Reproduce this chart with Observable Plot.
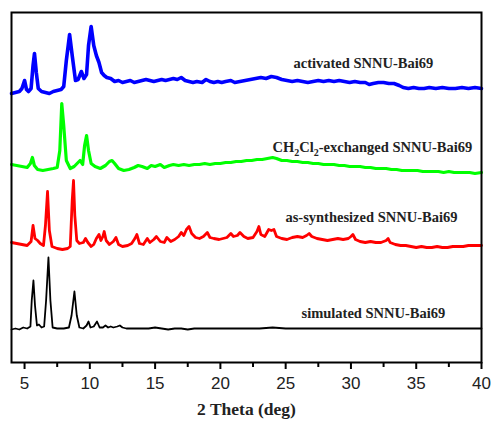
<!DOCTYPE html>
<html>
<head>
<meta charset="utf-8">
<script src="https://cdn.jsdelivr.net/npm/d3@7"></script>
<script src="https://cdn.jsdelivr.net/npm/@observablehq/plot@0.6"></script>
<style>
  html, body { margin: 0; padding: 0; background: #fff; }
</style>
</head>
<body>
<div id="chart"></div>
<script>
// 2θ (deg), intensity (a.u., stacked offsets as in the figure)
const activated = [[4.0,269],[4.3,270],[4.6,271],[4.8,274],[5.0,282],[5.15,273],[5.3,271],[5.5,274],[5.65,297],[5.76,309],[5.9,290],[6.05,274],[6.3,271],[6.6,270],[6.9,269],[7.2,271],[7.5,272],[7.8,273],[8.0,276],[8.2,302],[8.45,328],[8.65,307],[8.9,282],[9.1,283],[9.35,291],[9.55,284],[9.75,288],[9.9,317],[10.1,336],[10.3,317],[10.5,307],[10.7,300],[10.9,290],[11.1,287],[11.3,285],[11.6,284],[11.9,281],[12.2,282],[12.5,280],[12.8,281],[13.1,282],[13.4,280],[13.7,281],[14.0,282],[14.3,283],[14.6,282],[14.9,281],[15.2,282],[15.5,283],[15.8,282],[16.1,283],[16.4,284],[16.7,283],[17.0,285],[17.3,282],[17.6,281],[17.9,280],[18.2,281],[18.6,280],[18.9,283],[19.2,281],[19.5,280],[19.8,281],[20.1,280],[20.4,281],[20.8,282],[21.1,280],[21.5,281],[21.9,282],[22.3,283],[22.7,284],[23.1,285],[23.5,284],[23.9,286],[24.3,285],[24.7,283],[25.1,282],[25.5,281],[25.9,282],[26.3,281],[26.7,280],[27.1,281],[27.5,282],[27.9,281],[28.3,282],[28.7,281],[29.1,282],[29.5,281],[29.9,280],[30.3,281],[30.7,280],[31.1,280],[31.4,278],[31.7,279],[32.1,280],[32.5,280],[32.9,279],[33.3,279],[33.7,277],[34.0,275],[34.4,274],[34.8,275],[35.2,274],[35.6,274],[36.0,275],[36.5,274],[37.0,275],[37.5,274],[38.0,274],[38.5,275],[39.0,274],[39.5,275],[40.0,274]];

const exchanged = [[4.0,198],[4.4,197],[4.8,196],[5.2,195],[5.45,199],[5.6,205],[5.75,197],[6.0,193],[6.4,192],[6.8,193],[7.2,194],[7.5,195],[7.7,212],[7.85,259],[8.0,237],[8.2,202],[8.5,194],[8.8,196],[9.1,200],[9.25,202],[9.45,198],[9.6,217],[9.75,227],[9.9,212],[10.1,199],[10.4,196],[10.8,194],[11.2,197],[11.5,201],[11.7,202],[11.9,199],[12.2,194],[12.6,192],[13.0,193],[13.4,195],[13.7,197],[14.0,196],[14.4,194],[14.7,197],[15.0,196],[15.4,198],[15.7,195],[16.1,197],[16.4,198],[16.8,197],[17.2,198],[17.6,197],[18.0,198],[18.4,198],[18.8,199],[19.2,198],[19.6,199],[20.0,199],[20.4,200],[20.8,200],[21.2,201],[21.6,201],[22.0,202],[22.4,202],[22.8,203],[23.2,203],[23.6,204],[24.0,205],[24.3,204],[24.7,202],[25.1,202],[25.5,201],[25.9,201],[26.3,200],[26.7,200],[27.1,199],[27.5,199],[27.9,198],[28.3,198],[28.7,198],[29.1,197],[29.5,197],[29.9,196],[30.3,196],[30.7,196],[31.1,195],[31.5,195],[31.9,194],[32.3,194],[32.7,194],[33.1,193],[33.5,193],[33.9,192],[34.3,192],[34.7,192],[35.1,192],[35.5,191],[35.9,191],[36.3,191],[36.7,191],[37.1,190],[37.5,191],[37.9,190],[38.3,190],[38.7,190],[39.1,190],[39.5,189],[40.0,190]];

const synthesized = [[4.0,120],[4.4,119],[4.8,118],[5.2,117],[5.5,121],[5.65,137],[5.8,124],[6.0,122],[6.2,119],[6.45,117],[6.6,137],[6.76,171],[6.9,132],[7.1,116],[7.5,114],[7.9,113],[8.3,114],[8.5,116],[8.65,162],[8.75,182],[8.85,147],[9.0,122],[9.2,119],[9.5,120],[9.67,124],[9.85,120],[10.1,116],[10.3,118],[10.5,124],[10.7,128],[10.85,122],[11.0,126],[11.1,131],[11.25,122],[11.5,118],[11.8,121],[12.0,125],[12.2,118],[12.5,116],[12.9,117],[13.2,119],[13.45,124],[13.6,128],[13.8,119],[14.1,118],[14.4,124],[14.6,120],[14.9,123],[15.1,126],[15.4,121],[15.7,120],[15.9,125],[16.2,121],[16.5,123],[16.8,126],[17.0,130],[17.2,127],[17.4,133],[17.6,136],[17.8,129],[18.1,125],[18.4,124],[18.7,126],[19.0,130],[19.2,125],[19.5,124],[19.9,123],[20.2,124],[20.5,125],[20.8,129],[21.0,126],[21.3,127],[21.5,130],[21.8,126],[22.1,124],[22.5,125],[22.8,131],[22.95,136],[23.1,128],[23.4,126],[23.7,133],[23.9,132],[24.1,133],[24.3,126],[24.7,124],[25.1,123],[25.5,125],[25.9,126],[26.3,125],[26.6,127],[26.8,129],[27.0,126],[27.4,124],[27.8,123],[28.2,122],[28.6,123],[29.0,124],[29.4,123],[29.8,124],[30.0,126],[30.15,128],[30.35,123],[30.7,121],[31.1,120],[31.5,121],[31.9,120],[32.3,120],[32.7,122],[32.85,124],[33.0,120],[33.4,118],[33.8,117],[34.2,117],[34.6,116],[35.0,115],[35.4,116],[35.8,115],[36.2,115],[36.6,116],[37.0,115],[37.4,115],[37.8,116],[38.2,116],[38.6,116],[39.0,117],[39.4,117],[40.0,117]];

const simulated = [[4.0,33],[4.3,34],[4.6,33],[4.9,35],[5.2,34],[5.45,36],[5.55,62],[5.68,82],[5.8,57],[5.95,37],[6.1,38],[6.3,35],[6.5,36],[6.65,62],[6.83,105],[6.98,62],[7.15,35],[7.5,34],[8.0,34],[8.4,35],[8.6,47],[8.82,71],[9.0,47],[9.2,35],[9.5,34],[9.75,37],[9.9,41],[10.05,35],[10.3,36],[10.55,41],[10.75,35],[11.0,35],[11.2,37],[11.4,35],[11.6,36],[11.8,35],[12.1,36],[12.3,37],[12.5,35],[12.8,34],[13.2,34],[13.6,34],[14.0,34],[14.5,34],[15.0,35],[15.5,34],[16.0,33],[16.5,34],[17.0,34],[17.5,33],[18.0,34],[18.5,34],[19.0,34],[20.0,34],[21.0,34],[22.0,34],[23.0,34],[24.0,35],[25.0,34],[26.0,34],[27.0,34],[28.0,34],[29.0,34],[30.0,34],[31.0,34],[32.0,34],[33.0,34],[34.0,34],[35.0,34],[36.0,34],[37.0,34],[38.0,34],[39.0,34],[40.0,34]];

const seriesNames = ["activated SNNU-Bai69", "CH2Cl2-exchanged SNNU-Bai69", "as-synthesized SNNU-Bai69", "simulated SNNU-Bai69"];
const seriesColors = ["#0000ff", "#00ff00", "#ff0000", "#000000"];
const labelTheta = [30.95, 31.64, 31.57, 31.72];
const labelY = [299, 215, 145, 49];
const majorTicks = [5, 10, 15, 20, 25, 30, 35, 40];
const minorTicks = [7.5, 12.5, 17.5, 22.5, 27.5, 32.5, 37.5];
const xLabel = "2 Theta (deg)";

const toRows = (arr) => arr.map(([x, y]) => ({x, y}));
const labels = seriesNames.map((name, i) => ({name, x: labelTheta[i], y: labelY[i]}));

const serif = "'Liberation Serif', 'Times New Roman', serif";

const chart = Plot.plot({
  width: 491,
  height: 423,
  marginLeft: 11,
  marginRight: 10,
  marginTop: 12,
  marginBottom: 61,
  style: {background: "#fff", overflow: "visible"},
  x: {domain: [4, 40]},
  y: {domain: [0, 350]},
  marks: [
    Plot.line(toRows(simulated), {x: "x", y: "y", stroke: seriesColors[3], strokeWidth: 1.8}),
    Plot.line(toRows(synthesized), {x: "x", y: "y", stroke: seriesColors[2], strokeWidth: 2.8}),
    Plot.line(toRows(exchanged), {x: "x", y: "y", stroke: seriesColors[1], strokeWidth: 3.2}),
    Plot.line(toRows(activated), {x: "x", y: "y", stroke: seriesColors[0], strokeWidth: 3.6}),
    Plot.frame({stroke: "#000", strokeWidth: 2}),
    Plot.axisX({ticks: majorTicks, tickSize: 7, tickPadding: 7, tickFormat: d => String(d), fontSize: 17, fontFamily: "'Liberation Sans', Arial, sans-serif", label: null, strokeWidth: 2, fill: "#222"}),
    Plot.axisX({ticks: minorTicks, tickSize: 5, text: null, label: null, strokeWidth: 2}),
    Plot.axisY({ticks: [], label: null}),
    Plot.text(labels, {x: "x", y: "y", text: "name", fontSize: 14.5, fontWeight: "bold", fontFamily: serif, fill: "#222", textAnchor: "middle"}),
    Plot.text([xLabel], {frameAnchor: "bottom", dy: 52, text: d => d, fontSize: 17.5, fontWeight: "bold", fontFamily: serif, fill: "#222"})
  ]
});

// render the two "2" of CH2Cl2 as subscripts
chart.querySelectorAll("text").forEach(t => {
  if (t.textContent === seriesNames[1]) {
    const ns = "http://www.w3.org/2000/svg";
    const parts = [["CH", 0, null], ["2", 4, "10px"], ["Cl", -4, null], ["2", 4, "10px"], ["-exchanged SNNU-Bai69", -4, null]];
    while (t.firstChild) t.removeChild(t.firstChild);
    parts.forEach(([s, dy, fs]) => {
      const sp = document.createElementNS(ns, "tspan");
      sp.textContent = s;
      if (dy) sp.setAttribute("dy", dy);
      if (fs) sp.setAttribute("font-size", fs);
      t.appendChild(sp);
    });
  }
});

document.getElementById("chart").appendChild(chart);
</script>
</body>
</html>
